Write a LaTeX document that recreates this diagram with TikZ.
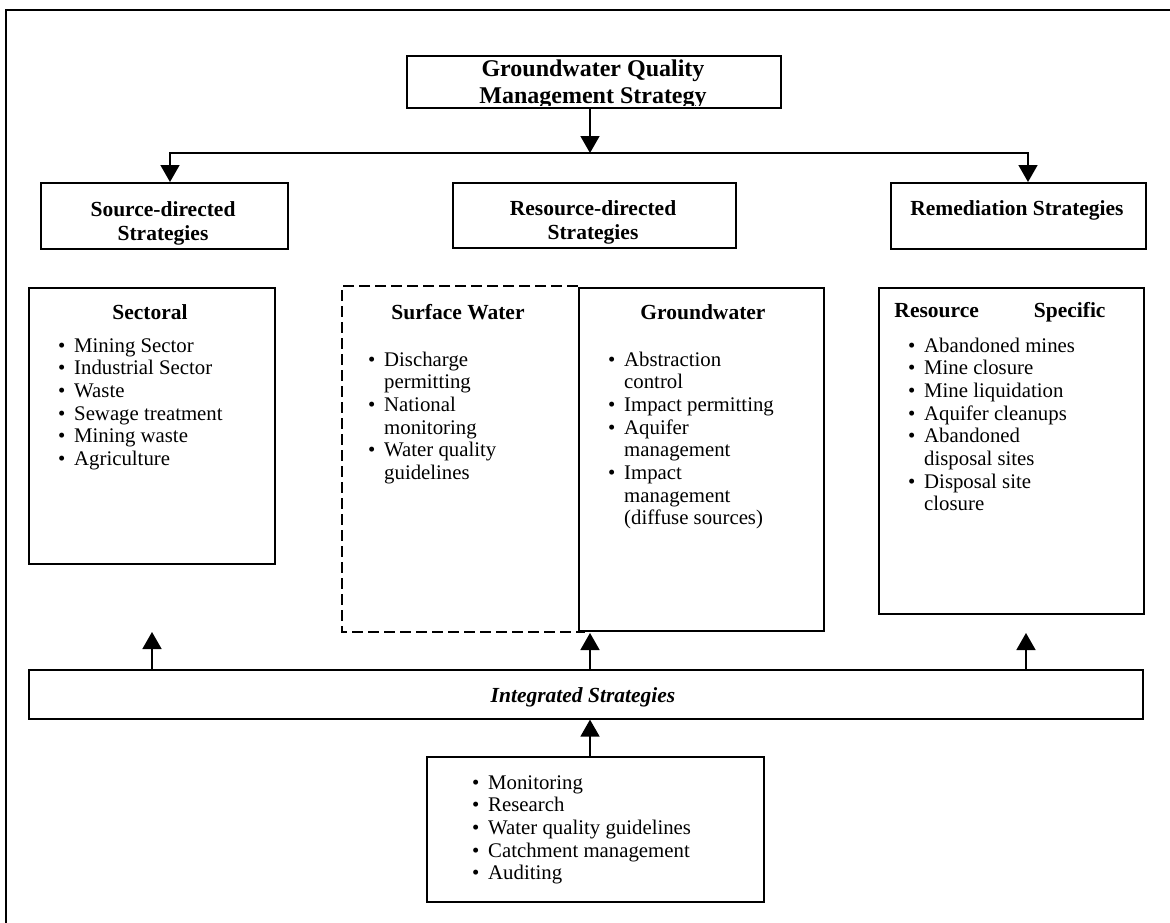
\documentclass[tikz,border=0pt]{standalone}
\usepackage{fontspec}
\setmainfont{Liberation Serif}
\usetikzlibrary{arrows.meta}
\newcommand\bl{\makebox[16pt][l]{\textbullet}}
\newcommand\cl{\hspace*{16pt}}
\tikzset{
  bx/.style={draw, line width=1.6pt, anchor=north west, inner sep=0pt},
  arr/.style={line width=1.6pt, -{Triangle[width=19pt,length=17pt]}},
  hd/.style={font=\fontsize{21.5}{24}\selectfont\bfseries, align=center, inner sep=0pt},
  lst/.style={font=\fontsize{20.8}{22.7}\selectfont, anchor=base west, inner sep=0pt},
  frame/.style={line width=2.4pt},
  dsh/.style={line width=1.6pt, dash pattern=on 11pt off 5pt},
}
\begin{document}
\begin{tikzpicture}[x=1pt,y=-1pt]
\useasboundingbox (0,0) rectangle (1170,922);
\draw[frame] (6,924) -- (6,10) -- (1172,10);

% top level
\node[bx, minimum width=374pt, minimum height=52pt] (top) at (406,55) {};
\begin{scope}
\clip (406,55) rectangle (780,105);
\node[font=\fontsize{24}{27}\selectfont\bfseries, align=center, inner sep=0pt] (topT) at (593,84) {Groundwater Quality\\Management Strategy};
\end{scope}

\node[bx, minimum width=247pt, minimum height=66pt] (src) at (40,182) {};
\begin{scope}
\clip (40,182) rectangle (287,245);
\node[hd] (srcT) at (163,223) {Source-directed\\Strategies};
\end{scope}
\node[bx, minimum width=283pt, minimum height=65pt] (res) at (452,182) {};
\begin{scope}
\clip (452,182) rectangle (735,245);
\node[hd] (resT) at (593,222) {Resource-directed\\Strategies};
\end{scope}
\node[bx, minimum width=255pt, minimum height=66pt] (rem) at (890,182) {};
\node[hd] (remT) at (1017,210) {Remediation Strategies};

\coordinate (jT) at (590,153);
\coordinate (jL) at (170,153);
\coordinate (jR) at (1028,153);
\draw[arr] (top.south -| jT) -- (jT);
\draw[arr] (jT) -| (jL |- src.north);
\draw[arr] (jT) -| (jR |- rem.north);

% second level
\node[bx, minimum width=246pt, minimum height=276pt] (sect) at (28,287) {};
\node[hd] (sectT) at (150,312) {Sectoral};
\node[lst] (sectL) at (58,352) {\begin{tabular}[t]{@{}l@{}}
\bl Mining Sector\\ \bl Industrial Sector\\ \bl Waste\\ \bl Sewage treatment\\ \bl Mining waste\\ \bl Agriculture
\end{tabular}};

\draw[dsh] (578,286) -- (342,286) -- (342,632) -- (585,632);
\node[hd] (swT) at (458,312) {Surface Water};
\node[lst] (swL) at (368,366) {\begin{tabular}[t]{@{}l@{}}
\bl Discharge\\ \cl permitting\\ \bl National\\ \cl monitoring\\ \bl Water quality\\ \cl guidelines
\end{tabular}};

\node[bx, minimum width=245pt, minimum height=343pt] (gw) at (578,287) {};
\node[hd] (gwT) at (703,312) {Groundwater};
\node[lst] (gwL) at (608,366) {\begin{tabular}[t]{@{}l@{}}
\bl Abstraction\\ \cl control\\ \bl Impact permitting\\ \bl Aquifer\\ \cl management\\ \bl Impact\\ \cl management\\ \cl (diffuse sources)
\end{tabular}};

\node[bx, minimum width=265pt, minimum height=326pt] (rs) at (878,287) {};
\node[hd] (rsT) at (1000,312) {Resource\hspace{55pt}Specific};
\node[lst] (rsL) at (908,352) {\begin{tabular}[t]{@{}l@{}}
\bl Abandoned mines\\ \bl Mine closure\\ \bl Mine liquidation\\ \bl Aquifer cleanups\\ \bl Abandoned\\ \cl disposal sites\\ \bl Disposal site\\ \cl closure
\end{tabular}};

% integrated
\node[bx, minimum width=1114pt, minimum height=49pt] (integ) at (28,669) {};
\node[font=\fontsize{21.5}{24}\selectfont\bfseries\itshape, inner sep=0pt] (integT) at (583,697) {Integrated Strategies};
\coordinate (aL) at (152,632);
\coordinate (aM) at (590,633);
\coordinate (aR) at (1026,633);
\draw[arr] (integ.north -| aL) -- (aL);
\draw[arr] (integ.north -| aM) -- (aM);
\draw[arr] (integ.north -| aR) -- (aR);

\node[bx, minimum width=337pt, minimum height=145pt] (bot) at (426,756) {};
\node[lst] (botL) at (472,789) {\begin{tabular}[t]{@{}l@{}}
\bl Monitoring\\ \bl Research\\ \bl Water quality guidelines\\ \bl Catchment management\\ \bl Auditing
\end{tabular}};
\draw[arr] (bot.north -| aM) -- (integ.south -| aM);
\end{tikzpicture}
\end{document}
